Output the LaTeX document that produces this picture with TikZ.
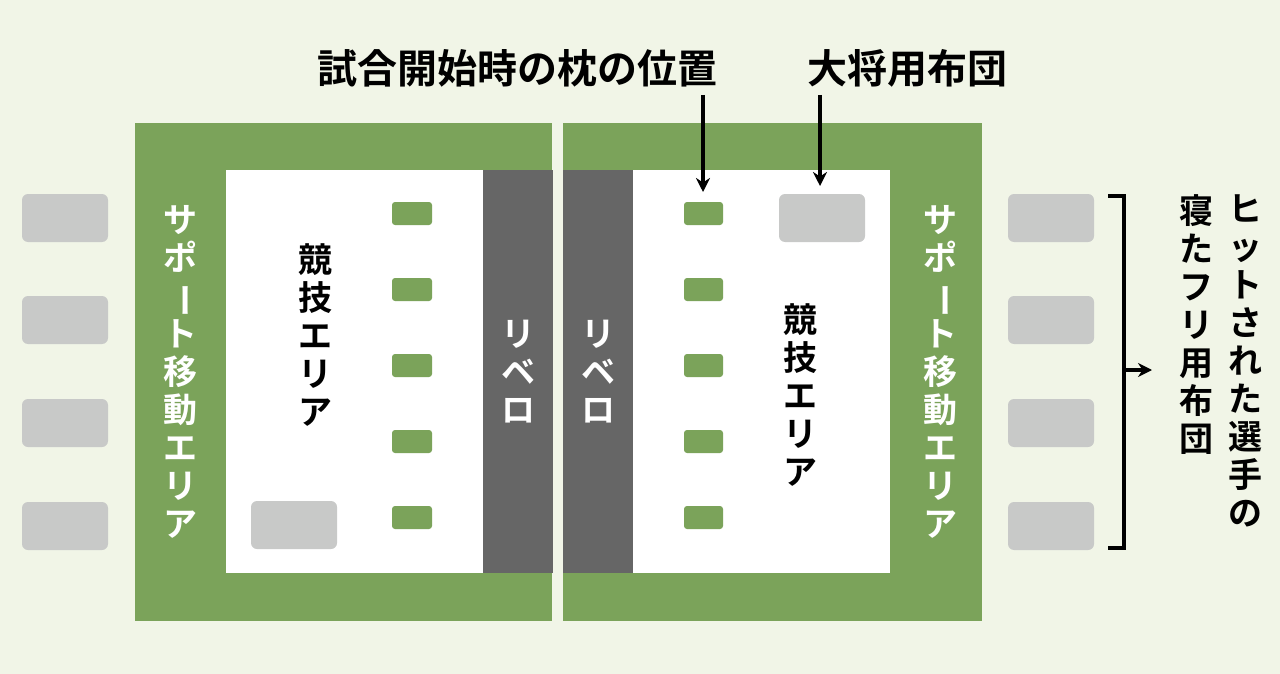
\documentclass[tikz,border=0pt]{standalone}
\usepackage{fontspec}
\usetikzlibrary{arrows.meta}
\setmainfont{Noto Sans CJK JP Bold}
\definecolor{bg}{HTML}{F1F5E7}
\definecolor{fg}{HTML}{7BA35A}
\definecolor{dk}{HTML}{666666}
\definecolor{gy}{HTML}{C8C9C8}
\newcommand{\vbar}{\rotatebox[origin=c]{-90}{ー}}
\begin{document}
\begin{tikzpicture}[x=0.5pt,y=-0.5pt,
  pad/.style={fill=fg,rounded corners=1.5pt},
  fut/.style={fill=gy,rounded corners=3pt},
  vt/.style={align=center,font=\fontsize{17}{19}\selectfont,inner sep=0pt},
  arr/.style={-{Stealth[length=7pt,width=7pt]},line width=1.6pt}]
\fill[bg] (0,0) rectangle (1280,674);
\fill[fg] (135,123) rectangle (552,621);
\fill[fg] (563,123) rectangle (982,621);
\fill[white] (226,170) rectangle (483,573);
\fill[white] (633,170) rectangle (890,573);
\fill[dk] (483,170) rectangle (553,573);
\fill[dk] (563,170) rectangle (633,573);
\foreach \y in {202,278,354,430,506}{
  \fill[pad] (392,\y) rectangle (432,\y+23);
  \fill[pad] (684,\y) rectangle (723,\y+23);}
\foreach \y in {194,296,399,502}{
  \fill[fut] (22,\y) rectangle (108,\y+48);
  \fill[fut] (1008,\y) rectangle (1094,\y+48);}
\fill[fut] (251,501) rectangle (337,549);
\fill[fut] (779,194) rectangle (865,242);
\node[vt,white] (s1) at (180,372) {サ\\ポ\\\vbar\\ト\\移\\動\\エ\\リ\\ア};
\node[vt,white] (s2) at (940,372) {サ\\ポ\\\vbar\\ト\\移\\動\\エ\\リ\\ア};
\node[vt] (k1) at (315,335) {競\\技\\エ\\リ\\ア};
\node[vt] (k2) at (800,395) {競\\技\\エ\\リ\\ア};
\node[vt,white] (r1) at (518,372) {リ\\ベ\\ロ};
\node[vt,white] (r2) at (598,372) {リ\\ベ\\ロ};
\node[font=\fontsize{20}{22}\selectfont] (t1) at (517,68) {試合開始時の枕の位置};
\node[font=\fontsize{20}{22}\selectfont] (t2) at (907,68) {大将用布団};
\coordinate (a1) at (703,95); \coordinate (a2) at (703,192);
\coordinate (b1) at (820,95); \coordinate (b2) at (820,186);
\draw[arr] (a1) -- (a2);
\draw[arr] (b1) -- (b2);
\draw[line width=1.6pt] (1108,196) -- (1124,196) -- (1124,548) -- (1108,548);
\coordinate (c1) at (1124,370); \coordinate (c2) at (1152,370);
\draw[arr] (c1) -- (c2);
\node[vt,anchor=north] (h1) at (1245,194) {ヒ\\ッ\\ト\\さ\\れ\\た\\選\\手\\の};
\node[vt,anchor=north] (h2) at (1196,194) {寝\\た\\フ\\リ\\用\\布\\団};
\end{tikzpicture}
\end{document}
